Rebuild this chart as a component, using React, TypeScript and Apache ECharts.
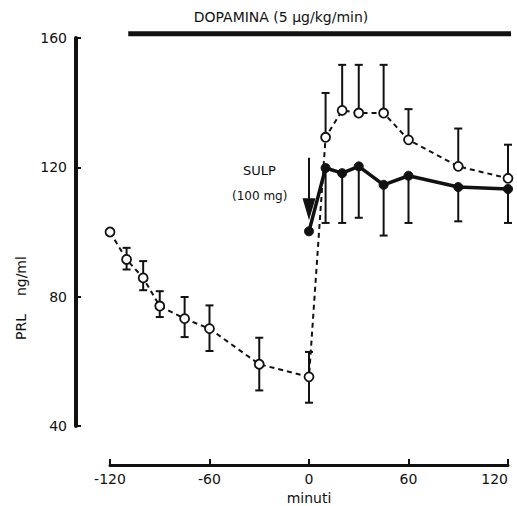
import React, { useEffect, useRef } from "react";
import * as echarts from "echarts";

// Open circles (dashed line): minutes, mean, upper/lower error limits
const openMinutes = [-120, -110, -100, -90, -75, -60, -30, 0, 10, 20, 30, 45, 60, 90, 120];
const openValues = [100, 91.5, 85.8, 77.1, 73.2, 70.1, 59.1, 55.2, 129.3, 137.6, 136.8, 136.8, 128.5, 120.3, 116.6];
const openUpper = [null, 95.1, 91, 81.7, 79.9, 77.3, 67.3, 62.9, 143, 151.7, 151.7, 151.7, 138, 132, 127];
const openLower = [null, 88.4, 82, 73.7, 67.5, 63.2, 51, 47.2, null, null, null, null, null, null, null];

// Filled circles (solid line, after SULP)
const filledMinutes = [0, 10, 20, 30, 45, 60, 90, 120];
const filledValues = [100.2, 119.8, 118.2, 120.3, 114.6, 117.4, 113.9, 113.3];
const filledLower = [null, 102.8, 102.8, 104.4, 98.9, 102.8, 103.3, 102.8];

// Dopamine infusion period bar
const dopamineStart = -109;
const dopamineEnd = 122;
const dopamineLevel = 161.3;

// SULP arrow (minute, from, to)
const sulpMinute = 0;
const sulpFrom = 123;
const sulpTo = 107;

const FONT = "'DejaVu Sans', sans-serif";

export default function App() {
  const ref = useRef<HTMLDivElement>(null);
  useEffect(() => {
    document.body.style.margin = "0";
    const chart = echarts.init(ref.current!, null, { renderer: "svg" });

    const errData: any[] = [];
    openMinutes.forEach((m, i) => {
      const up = openUpper[i];
      const lo = openLower[i];
      if (up == null && lo == null) return;
      errData.push([m, lo == null ? openValues[i] : lo, up == null ? openValues[i] : up, lo == null ? 0 : 1, up == null ? 0 : 1]);
    });
    filledMinutes.forEach((m, i) => {
      const lo = filledLower[i];
      if (lo == null) return;
      errData.push([m, lo, filledValues[i], 1, 0]);
    });

    const option: any = {
      animation: false,
      backgroundColor: "#fff",
      grid: { left: 110, right: 9, top: 38, bottom: 80, outerBoundsMode: "none", containLabel: false },
      xAxis: {
        type: "value",
        min: -120,
        max: 120,
        interval: 60,
        offset: 39,
        axisLine: { show: true, onZero: false, lineStyle: { color: "#111", width: 3 } },
        axisTick: { show: true, inside: true, length: 6, lineStyle: { color: "#111", width: 2 } },
        axisLabel: { color: "#111", fontSize: 14, fontFamily: FONT, margin: 7, showMinLabel: true, showMaxLabel: true, alignMaxLabel: "right" },
        splitLine: { show: false },
        name: "minuti",
        nameLocation: "middle",
        nameGap: 20,
        nameTextStyle: { color: "#111", fontSize: 14, fontFamily: FONT, verticalAlign: "top" },
      },
      yAxis: {
        type: "value",
        min: 40,
        max: 160,
        interval: 40,
        offset: 34,
        axisLine: { show: true, onZero: false, lineStyle: { color: "#111", width: 4 } },
        axisTick: { show: true, inside: true, length: 5, lineStyle: { color: "#111", width: 2 } },
        axisLabel: { color: "#111", fontSize: 14, fontFamily: FONT, margin: 9 },
        splitLine: { show: false },
      },
      graphic: [
        {
          type: "text",
          x: 281,
          y: 17,
          style: { text: "DOPAMINA (5 µg/kg/min)", fill: "#111", font: `14px ${FONT}`, align: "center", verticalAlign: "middle" },
        },
        {
          type: "text",
          x: 21,
          y: 298,
          rotation: Math.PI / 2,
          style: { text: "PRL    ng/ml", fill: "#111", font: `14px ${FONT}`, align: "center", verticalAlign: "middle" },
        },
        {
          type: "text",
          x: 243,
          y: 164,
          style: { text: "SULP", fill: "#111", font: `13px ${FONT}` },
        },
        {
          type: "text",
          x: 232,
          y: 190,
          style: { text: "(100 mg)", fill: "#111", font: `12px ${FONT}` },
        },
      ],
      series: [
        {
          type: "line",
          name: "dopamina",
          data: [[dopamineStart, dopamineLevel], [dopamineEnd, dopamineLevel]],
          symbol: "none",
          clip: false,
          lineStyle: { color: "#111", width: 5 },
          silent: true,
        },
        {
          type: "custom",
          name: "err",
          data: errData,
          z: 3,
          renderItem: (params: any, api: any) => {
            const x = api.value(0);
            const lo = api.value(1);
            const hi = api.value(2);
            const capLo = api.value(3);
            const capHi = api.value(4);
            const pHi = api.coord([x, hi]);
            const pLo = api.coord([x, lo]);
            const hw = 4;
            const st = { stroke: "#111", lineWidth: 2 };
            const children: any[] = [
              { type: "line", shape: { x1: pHi[0], y1: pHi[1], x2: pLo[0], y2: pLo[1] }, style: st },
            ];
            if (capHi) children.push({ type: "line", shape: { x1: pHi[0] - hw, y1: pHi[1], x2: pHi[0] + hw, y2: pHi[1] }, style: st });
            if (capLo) children.push({ type: "line", shape: { x1: pLo[0] - hw, y1: pLo[1], x2: pLo[0] + hw, y2: pLo[1] }, style: st });
            return { type: "group", children };
          },
        },
        {
          type: "line",
          name: "open",
          data: openMinutes.map((m, i) => [m, openValues[i]]),
          symbol: "circle",
          symbolSize: 9,
          showAllSymbol: true,
          itemStyle: { color: "#fff", borderColor: "#111", borderWidth: 1.8 },
          lineStyle: { color: "#111", width: 2, type: [5, 4] },
          z: 5,
        },
        {
          type: "line",
          name: "filled",
          data: filledMinutes.map((m, i) => [m, filledValues[i]]),
          symbol: "circle",
          symbolSize: 9,
          showAllSymbol: true,
          itemStyle: { color: "#111", borderColor: "#111", borderWidth: 1 },
          lineStyle: { color: "#111", width: 3.5 },
          z: 6,
          markLine: {
            silent: true,
            animation: false,
            symbol: ["none", "triangle"],
            symbolSize: [13, 22],
            label: { show: false },
            lineStyle: { color: "#111", width: 2, type: "solid" },
            itemStyle: { color: "#111" },
            data: [[{ coord: [sulpMinute, sulpFrom] }, { coord: [sulpMinute, sulpTo] }]],
          },
        },
      ],
    };
    chart.setOption(option);
    return () => chart.dispose();
  }, []);
  return <div ref={ref} style={{ width: 517, height: 506 }} />;
}
